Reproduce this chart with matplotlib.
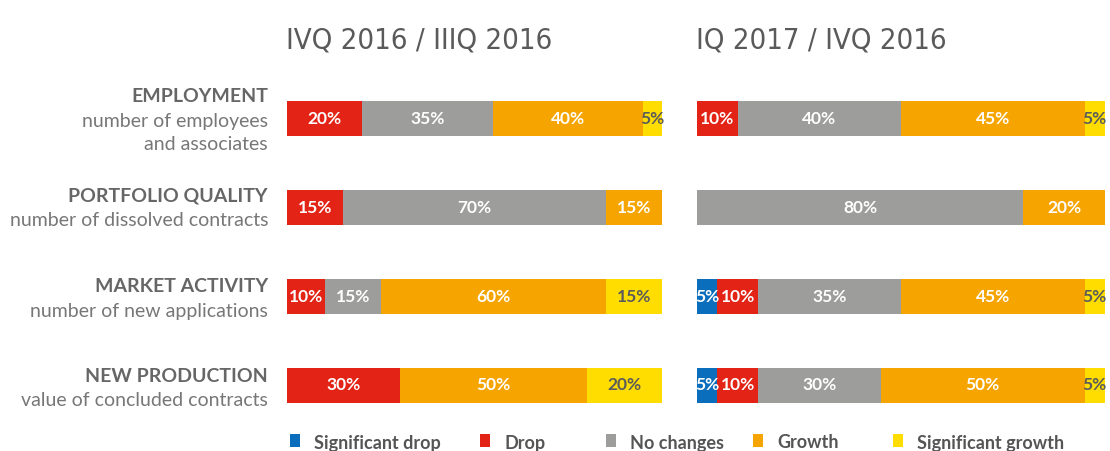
import matplotlib
matplotlib.use("Agg")
import matplotlib.pyplot as plt
from matplotlib.patches import Rectangle

W, H = 1110, 451

categories = ["EMPLOYMENT", "PORTFOLIO QUALITY", "MARKET ACTIVITY", "NEW PRODUCTION"]
subtitles = [["number of employees", "and associates"], ["number of dissolved contracts"],
             ["number of new applications"], ["value of concluded contracts"]]
series = ["Significant drop", "Drop", "No changes", "Growth", "Significant growth"]
colors = ["#0a6ebd", "#e32315", "#9d9d9c", "#f6a400", "#ffdd00"]
panel_titles = ["IVQ 2016 / IIIQ 2016", "IQ 2017 / IVQ 2016"]

# values per category: [sig drop, drop, no changes, growth, sig growth]
left_values = [
    [0, 20, 35, 40, 5],
    [0, 15, 70, 15, 0],
    [0, 10, 15, 60, 15],
    [0, 30, 0, 50, 20],
]
right_values = [
    [0, 10, 40, 45, 5],
    [0, 0, 80, 20, 0],
    [5, 10, 35, 45, 5],
    [5, 10, 30, 50, 5],
]

fig = plt.figure(figsize=(W / 100, H / 100), dpi=100)
fig.patch.set_facecolor("white")


def fx(x):
    return x / W


def fy(y):
    return 1 - y / H


def draw_panel(ax, values):
    for i, row in enumerate(values):
        left = 0
        for j, v in enumerate(row):
            if v <= 0:
                continue
            ax.barh(i, v, left=left, height=0.39, color=colors[j], edgecolor="none")
            tc = "#5b5b5b" if j == 4 else "white"
            ax.text(left + v / 2, i, f"{v}%", ha="center", va="center",
                    color=tc, fontsize=12.5, family="Lato", fontweight="bold")
            left += v
    ax.set_xlim(0, 100)
    ax.set_ylim(3.5, -0.5)
    ax.axis("off")


top_px, bot_px = 74, 430
axL = fig.add_axes([fx(287), fy(bot_px), fx(662) - fx(287), (bot_px - top_px) / H])
axR = fig.add_axes([fx(697), fy(bot_px), fx(1105) - fx(697), (bot_px - top_px) / H])
draw_panel(axL, left_values)
draw_panel(axR, right_values)

for x, t in zip([287, 697], panel_titles):
    fig.text(fx(x - 1), fy(41), t, ha="left", va="center", fontsize=21,
             family="DejaVu Sans", fontstretch="condensed", fontweight="light",
             color="#5a5a5a")

title_y = [96, 196, 287, 376]
for i, (c, s) in enumerate(zip(categories, subtitles)):
    fig.text(fx(268), fy(title_y[i]), c, ha="right", va="center", fontsize=14,
             family="Lato", fontweight="bold", color="#666666")
    for k, line in enumerate(s):
        fig.text(fx(268), fy(title_y[i] + 25 + 24 * k), line, ha="right", va="center",
                 fontsize=14, family="Lato", color="#777777")

leg_x = [290, 480, 606, 753, 893]
for x, name, col in zip(leg_x, series, colors):
    fig.patches.append(Rectangle((fx(x), fy(447)), 10 / W, 13 / H,
                                 transform=fig.transFigure, facecolor=col,
                                 edgecolor="none"))
    fig.text(fx(x + 24), fy(443), name, ha="left", va="center", fontsize=13,
             family="Lato", fontweight="bold", color="#555555")

fig.savefig("out.png", dpi=100)
